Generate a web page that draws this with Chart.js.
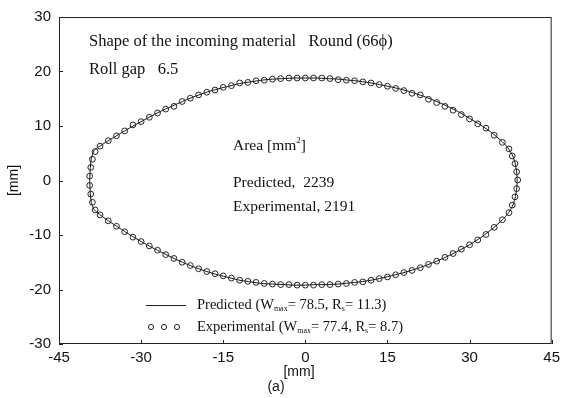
<!DOCTYPE html>
<html>
<head>
<meta charset="utf-8">
<script src="https://cdn.jsdelivr.net/npm/chart.js@4.4.1/dist/chart.umd.min.js"></script>
<style>
  html, body { margin: 0; padding: 0; background: #fff; }
</style>
</head>
<body>
<canvas id="shapeChart" width="565" height="398"></canvas>
<script>
  // Predicted cross-section contour (closed loop, mm)
  const predX = [-39.4, -39.3, -39.1, -38.6,
    -38, -36, -34, -32, -30, -28, -26, -24, -22, -20, -18, -16, -14, -12, -10, -8, -6, -4, -2,
    0, 2, 4, 6, 8, 10, 12, 14, 16, 18, 20, 22, 24, 26, 28, 30, 32, 34, 36,
    37, 37.8, 38.3, 38.6, 38.7, 38.6, 38.3, 37.8, 37,
    36, 34, 32, 30, 28, 26, 24, 22, 20, 18, 16, 14, 12, 10, 8, 6, 4, 2,
    0, -2, -4, -6, -8, -10, -12, -14, -16, -18, -20, -22, -24, -26, -28, -30, -32, -34, -36, -38,
    -38.6, -39.1, -39.3, -39.4];
  const predY = [0, 2, 4, 5.5,
    6.0, 7.3, 8.5, 9.7, 10.8, 11.9, 12.9, 13.8, 14.7, 15.5, 16.2, 16.8, 17.3, 17.8, 18.1, 18.4, 18.6, 18.7, 18.8,
    18.8, 18.8, 18.7, 18.6, 18.4, 18.2, 17.9, 17.5, 17.1, 16.6, 16.0, 15.3, 14.5, 13.6, 12.6, 11.4, 10.2, 8.8, 7.1,
    6.0, 4.7, 3.3, 1.6, 0, -1.6, -3.3, -4.8, -6.1,
    -7.2, -9.0, -10.5, -11.8, -12.9, -13.9, -14.8, -15.6, -16.3, -16.9, -17.4, -17.9, -18.3, -18.6, -18.8, -19.0, -19.1, -19.1,
    -19.2, -19.2, -19.1, -19.0, -18.9, -18.6, -18.3, -17.8, -17.3, -16.7, -16.0, -15.2, -14.3, -13.3, -12.3, -11.2, -10.0, -8.7, -7.4, -5.9,
    -5.3, -4, -2, 0];

  // Measured contour points (mm)
  const expX = [
    -37.5, -36, -34.5, -33, -31.5, -30, -28.5, -27, -25.5, -24, -22.5, -21, -19.5, -18, -16.5, -15, -13.5, -12, -10.5, -9,
    -7.5, -6, -4.5, -3, -1.5, 0, 1.5, 3, 4.5, 6, 7.5, 9, 10.5, 12, 13.5, 15, 16.5, 18, 19.5, 21,
    22.5, 24, 25.5, 27, 28.5, 30, 31.5, 33, 34.5, 36,
    37.2, 37.8, 38.3, 38.6, 38.8, 38.6, 38.3, 37.8, 37.2,
    36, 34.5, 33, 31.5, 30, 28.5, 27, 25.5, 24, 22.5, 21, 19.5, 18, 16.5, 15, 13.5, 12, 10.5, 9, 7.5,
    6, 4.5, 3, 1.5, 0, -1.5, -3, -4.5, -6, -7.5, -9, -10.5, -12, -13.5, -15, -16.5, -18, -19.5, -21, -22.5,
    -24, -25.5, -27, -28.5, -30, -31.5, -33, -34.5, -36, -37.5,
    -38.4, -38.9, -39.2, -39.4, -39.4, -39.2, -38.9, -38.4];
  const expY = [
    6.3, 7.3, 8.2, 9.1, 10.2, 10.8, 11.6, 12.4, 13.1, 13.6, 14.5, 15.1, 15.7, 16.2, 16.6, 17.1, 17.4, 17.9, 18.0, 18.3,
    18.4, 18.6, 18.7, 18.8, 18.8, 18.8, 18.8, 18.8, 18.7, 18.5, 18.4, 18.3, 18.1, 17.9, 17.6, 17.3, 16.9, 16.5, 16.0, 15.7,
    14.9, 14.3, 13.6, 12.9, 12.1, 11.3, 10.4, 9.6, 8.3, 7.0,
    5.8, 4.5, 3.1, 1.6, 0.1, -1.5, -3.0, -4.5, -5.9,
    -7.2, -8.6, -9.9, -10.9, -11.8, -12.6, -13.4, -14.1, -14.8, -15.4, -16.0, -16.5, -16.9, -17.3, -17.7, -18.0, -18.3, -18.6, -18.7, -18.9,
    -19.0, -19.1, -19.1, -19.2, -19.2, -19.2, -19.1, -19.1, -19.0, -18.9, -18.7, -18.5, -18.3, -17.9, -17.5, -17.1, -16.7, -16.2, -15.6, -15.0,
    -14.3, -13.6, -12.8, -12.0, -11.2, -10.4, -9.4, -8.4, -7.4, -6.3,
    -5.4, -4.0, -2.5, -0.9, 0.8, 2.4, 3.9, 5.3];

  const SERIF = '"Liberation Serif", "Times New Roman", serif';
  const SANS = '"Liberation Sans", Arial, sans-serif';

  const toPoints = (xs, ys) => xs.map((v, i) => ({ x: v, y: ys[i] }));

  // draw a sequence of text pieces (for sub/superscripts)
  function textRuns(ctx, x, y, parts) {
    parts.forEach(p => {
      ctx.font = p.font;
      ctx.fillText(p.t, x, y + (p.dy || 0));
      x += ctx.measureText(p.t).width;
    });
  }

  const decor = {
    id: 'decor',
    afterDraw(chart) {
      const { ctx, chartArea: a, scales: { x, y } } = chart;
      ctx.save();
      ctx.strokeStyle = '#222';
      ctx.lineWidth = 1;
      ctx.strokeRect(a.left + 0.5, a.top + 0.5, a.right - a.left - 1, a.bottom - a.top - 1);

      // inward tick marks
      ctx.beginPath();
      x.ticks.forEach((t, i) => {
        const px = Math.round(x.getPixelForTick(i)) + 0.5;
        ctx.moveTo(px, a.bottom);
        ctx.lineTo(px, a.bottom - 4);
      });
      y.ticks.forEach((t, i) => {
        const py = Math.round(y.getPixelForTick(i)) + 0.5;
        ctx.moveTo(a.left, py);
        ctx.lineTo(a.left + 4, py);
      });
      ctx.stroke();

      ctx.fillStyle = '#111';
      ctx.textBaseline = 'middle';
      ctx.textAlign = 'left';
      const f16 = '16.5px ' + SERIF;
      textRuns(ctx, 89, 42, [{ t: 'Shape of the incoming material   Round (66\u03D5)', font: f16 }]);
      textRuns(ctx, 89, 70, [{ t: 'Roll gap   6.5', font: f16 }]);
      const f15 = '15.5px ' + SERIF;
      textRuns(ctx, 233, 146, [
        { t: 'Area [mm', font: f15 },
        { t: '2', font: '9px ' + SERIF, dy: -5 },
        { t: ']', font: f15 }
      ]);
      textRuns(ctx, 233, 183, [{ t: 'Predicted,  2239', font: f15 }]);
      textRuns(ctx, 233, 207, [{ t: 'Experimental, 2191', font: f15 }]);

      // legend
      const f14 = '14.5px ' + SERIF, sub = '8px ' + SERIF;
      const ly1 = 305, ly2 = 327;
      ctx.beginPath();
      ctx.moveTo(146, ly1 + 0.5);
      ctx.lineTo(186, ly1 + 0.5);
      ctx.stroke();
      [151, 164, 177].forEach(cx => {
        ctx.beginPath();
        ctx.arc(cx, ly2, 2.6, 0, Math.PI * 2);
        ctx.stroke();
      });
      textRuns(ctx, 197, ly1, [
        { t: 'Predicted (W', font: f14 }, { t: 'max', font: sub, dy: 4 },
        { t: '= 78.5, R', font: f14 }, { t: 's', font: sub, dy: 4 }, { t: '= 11.3)', font: f14 }
      ]);
      textRuns(ctx, 197, ly2, [
        { t: 'Experimental (W', font: f14 }, { t: 'max', font: sub, dy: 4 },
        { t: '= 77.4, R', font: f14 }, { t: 's', font: sub, dy: 4 }, { t: '= 8.7)', font: f14 }
      ]);

      // axis caption
      ctx.textAlign = 'center';
      ctx.font = '14px ' + SANS;
      ctx.fillText('[mm]', 299, 372);
      ctx.fillText('(a)', 276, 387);
      ctx.restore();
    }
  };

  new Chart(document.getElementById('shapeChart'), {
    type: 'scatter',
    data: {
      datasets: [
        {
          label: 'Predicted',
          data: toPoints(predX, predY),
          showLine: true,
          borderColor: '#111',
          borderWidth: 1,
          pointRadius: 0,
          tension: 0.2,
          order: 2
        },
        {
          label: 'Experimental',
          data: toPoints(expX, expY),
          showLine: false,
          pointRadius: 2.9,
          pointBorderWidth: 1,
          pointBorderColor: '#222',
          pointBackgroundColor: 'rgba(255,255,255,0)',
          order: 1
        }
      ]
    },
    options: {
      responsive: false,
      animation: false,
      layout: { padding: { left: 0, right: 11, top: 14, bottom: 0 } },
      plugins: { legend: { display: false }, tooltip: { enabled: false } },
      scales: {
        x: {
          type: 'linear',
          min: -45, max: 45,
          grid: { display: false, drawTicks: false },
          border: { display: false },
          ticks: { stepSize: 15, padding: 5, color: '#111', font: { family: SANS, size: 15 } },
          afterFit: s => { s.height = 54; }
        },
        y: {
          type: 'linear',
          min: -30, max: 30,
          grid: { display: false, drawTicks: false },
          border: { display: false },
          ticks: { stepSize: 10, padding: 8, color: '#111', font: { family: SANS, size: 15 } },
          title: { display: true, text: '[mm]', color: '#111', font: { family: SANS, size: 14 }, padding: { top: 6, bottom: 0 } },
          afterFit: s => { s.width = 59; }
        }
      }
    },
    plugins: [decor]
  });
</script>
</body>
</html>
